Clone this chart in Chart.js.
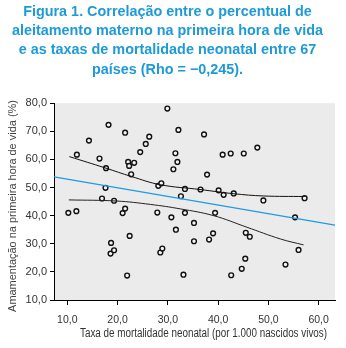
<!DOCTYPE html>
<html><head><meta charset="utf-8">
<script src="https://cdn.jsdelivr.net/npm/chart.js@4/dist/chart.umd.min.js"></script>
<style>html,body{margin:0;padding:0;background:#fff}#wrap{width:346px;height:348px}</style>
</head><body><div id="wrap"><canvas id="c" width="346" height="348"></canvas></div>
<script>
const titleLines = [
  "Figura 1. Correlação entre o percentual de",
  "aleitamento materno na primeira hora de vida",
  "e as taxas de mortalidade neonatal entre 67",
  "países (Rho = −0,245)."
];
const xAxisTitle = "Taxa de mortalidade neonatal (por 1.000 nascidos vivos)";
const yAxisTitle = "Amamentação na primeira hora de vida (%)";

// country points: neonatal mortality (x) and breastfeeding in 1st hour (y)
const mortalidade = [10.2,11.8,11.9,14.3,16.4,16.9,17.6,17.7,18.2,18.6,18.7,19.3,19.3,21.0,21.5,21.5,21.9,22.1,22.3,22.4,22.7,23.3,24.5,25.6,26.3,27.9,28.1,28.5,28.7,28.9,29.9,30.7,31.1,31.5,31.6,31.9,32.1,32.6,33.1,33.4,33.4,35.2,35.2,36.5,37.2,37.8,38.2,39.0,39.4,40.1,40.9,41.1,42.5,42.6,43.1,44.7,45.1,45.4,45.5,46.3,47.8,49.0,53.4,55.3,56.0,57.2];
const amamentacao = [41.0,41.6,61.7,66.7,60.3,46.1,49.9,56.9,72.3,26.5,30.3,27.7,45.3,40.9,42.5,69.5,18.7,59.1,57.7,32.8,54.7,58.8,62.6,65.5,68.1,41.1,50.6,26.9,51.5,28.3,78.1,39.4,56.5,62.2,35.0,59.1,70.5,46.9,19.0,41.0,49.5,37.4,30.9,49.3,68.9,54.6,31.5,33.7,41.0,49.0,61.7,47.4,62.1,18.8,47.9,21.1,62.1,24.7,33.9,32.5,64.2,45.4,22.6,39.4,27.8,46.2];

// linear fit line (blue)
const regX = [7.35, 63.25];
const regY = [53.8, 36.6];
// upper and lower curves
const upperX = [10.4,17.5,22.8,28.5,36.4,43.1,49.0,57.2];
const upperY = [61.0,57.0,53.9,51.0,49.3,47.8,47.0,46.8];
const lowerX = [10.3,19.8,26.5,32.5,39.1,45.7,52.4,57.0];
const lowerY = [45.6,45.2,44.0,42.4,40.0,35.9,31.7,29.6];

const xTicks = [10,20,30,40,50,60];
const yTicks = [10,20,30,40,50,60,70,80];

const pts = (xs, ys) => xs.map((x,i)=>({x, y: ys[i]}));
const fmt = v => Number(v).toFixed(1).replace('.', ',');

const FONT = "'Liberation Sans', Arial, sans-serif";

const bgPlugin = {
  id: 'plotBg',
  beforeDraw(chart) {
    const {ctx, chartArea: a} = chart;
    ctx.save();
    ctx.fillStyle = '#ebebeb';
    ctx.fillRect(a.left, a.top, a.right - a.left, a.bottom - a.top);
    ctx.restore();
  }
};

const axisTitlePlugin = {
  id: 'axisTitles',
  afterDraw(chart) {
    const {ctx} = chart;
    ctx.save();
    ctx.fillStyle = '#333';
    ctx.textAlign = 'center';
    ctx.textBaseline = 'middle';
    // x title: slightly condensed, as in the reference
    ctx.font = "12px " + FONT;
    const wx = ctx.measureText(xAxisTitle).width;
    ctx.translate(203.5, 333.5);
    ctx.scale(247 / wx, 1);
    ctx.fillText(xAxisTitle, 0, 0);
    ctx.restore();
    ctx.save();
    ctx.fillStyle = '#444';
    ctx.textAlign = 'center';
    ctx.textBaseline = 'middle';
    ctx.font = "11px " + FONT;
    const wy = ctx.measureText(yAxisTitle).width;
    const size = 11 * 212 / wy;
    ctx.font = size.toFixed(2) + "px " + FONT;
    ctx.translate(12.5, 206);
    ctx.rotate(-Math.PI / 2);
    ctx.fillText(yAxisTitle, 0, 0);
    ctx.restore();
  }
};

new Chart(document.getElementById('c'), {
  type: 'scatter',
  data: {
    datasets: [
      {data: pts(regX, regY), showLine: true, borderColor: '#1a9be3', borderWidth: 1.3, pointRadius: 0, fill: false},
      {data: pts(upperX, upperY), showLine: true, borderColor: '#111', borderWidth: 1, pointRadius: 0, tension: 0.4, fill: false},
      {data: pts(lowerX, lowerY), showLine: true, borderColor: '#222', borderWidth: 1, pointRadius: 0, tension: 0.4, fill: false},
      {data: pts(mortalidade, amamentacao), showLine: false, pointRadius: 2.4, pointBorderWidth: 1.4, pointBorderColor: '#111', pointBackgroundColor: '#f4f4f4'}
    ]
  },
  options: {
    responsive: false,
    animation: false,
    devicePixelRatio: 1,
    layout: {padding: {left: 0, right: 11, top: 0, bottom: 0}},
    plugins: {
      legend: {display: false},
      tooltip: {enabled: false},
      title: {
        display: true,
        text: titleLines,
        color: '#1e9bd7',
        font: {family: FONT, size: 14.4, weight: 'bold', lineHeight: 1.34},
        padding: {top: 2, bottom: 24}
      }
    },
    scales: {
      x: {
        type: 'linear', min: 7.35, max: 63.25,
        afterBuildTicks: s => { s.ticks = xTicks.map(v => ({value: v})); },
        afterFit: s => { s.height = 48; },
        ticks: {callback: fmt, color: '#333', font: {family: FONT, size: 10.5}, padding: 9, maxRotation: 0, autoSkip: false},
        grid: {drawOnChartArea: false, tickLength: 5, color: '#000'},
        border: {color: '#000', width: 1},
        title: {display: false}
      },
      y: {
        type: 'linear', min: 10, max: 80,
        afterBuildTicks: s => { s.ticks = yTicks.map(v => ({value: v})); },
        afterFit: s => { s.width = 54; },
        ticks: {callback: fmt, color: '#333', font: {family: FONT, size: 11}, padding: 3, autoSkip: false},
        grid: {drawOnChartArea: false, tickLength: 4, color: '#000'},
        border: {color: '#000', width: 1},
        title: {display: false}
      }
    }
  },
  plugins: [bgPlugin, axisTitlePlugin]
});
</script></body></html>
